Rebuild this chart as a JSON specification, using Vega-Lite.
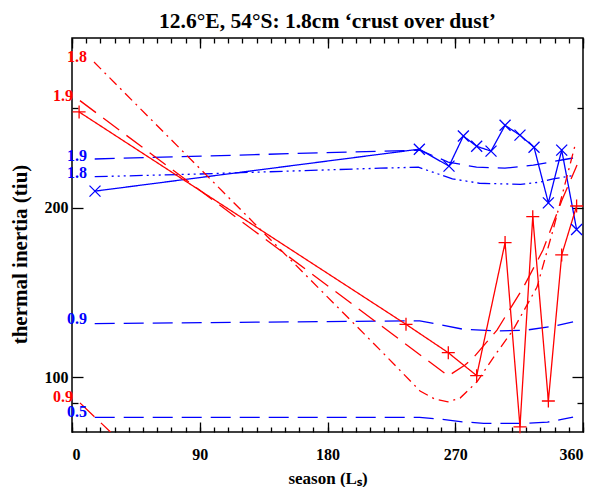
{
  "$schema": "https://vega.github.io/schema/vega-lite/v6.json",
  "width": 511,
  "height": 394,
  "autosize": {"type": "none"},
  "padding": {"left": 72, "top": 38, "right": 20, "bottom": 55},
  "background": "white",
  "title": {"text": "12.6°E, 54°S: 1.8cm ‘crust over dust’", "font": "Liberation Serif", "fontSize": 21.5, "fontWeight": "bold", "anchor": "middle", "frame": "group", "offset": -12, "baseline": "alphabetic", "color": "black"},
  "config": {
    "view": {"stroke": "black", "strokeWidth": 1.5},
    "axis": {"domain": false, "grid": false, "tickColor": "black", "tickWidth": 1.3, "labelFont": "Liberation Serif", "labelFontWeight": "bold", "labelFontSize": 16, "labelColor": "black", "titleFont": "Liberation Serif", "titleFontWeight": "bold", "titleColor": "black"}
  },
  "datasets": {
    "curves": [
      {"s": "obsBlue", "Ls": 16.2, "TI": 214}, {"s": "obsBlue", "Ls": 244.7, "TI": 254}, {"s": "obsBlue", "Ls": 265.6, "TI": 237}, {"s": "obsBlue", "Ls": 275.7, "TI": 268}, {"s": "obsBlue", "Ls": 285.1, "TI": 257}, {"s": "obsBlue", "Ls": 295.2, "TI": 252}, {"s": "obsBlue", "Ls": 305.1, "TI": 280}, {"s": "obsBlue", "Ls": 315.6, "TI": 269}, {"s": "obsBlue", "Ls": 325.5, "TI": 256}, {"s": "obsBlue", "Ls": 335.6, "TI": 204}, {"s": "obsBlue", "Ls": 345, "TI": 253}, {"s": "obsBlue", "Ls": 355.5, "TI": 183},
      {"s": "blue19", "Ls": 16, "TI": 244}, {"s": "blue19", "Ls": 245, "TI": 253}, {"s": "blue19", "Ls": 265, "TI": 241}, {"s": "blue19", "Ls": 285, "TI": 236}, {"s": "blue19", "Ls": 305, "TI": 235}, {"s": "blue19", "Ls": 325, "TI": 238}, {"s": "blue19", "Ls": 345, "TI": 243}, {"s": "blue19", "Ls": 353, "TI": 245},
      {"s": "blue18", "Ls": 16, "TI": 227}, {"s": "blue18", "Ls": 90, "TI": 229.5}, {"s": "blue18", "Ls": 217, "TI": 235}, {"s": "blue18", "Ls": 244, "TI": 236}, {"s": "blue18", "Ls": 258, "TI": 229.5}, {"s": "blue18", "Ls": 268, "TI": 225}, {"s": "blue18", "Ls": 287, "TI": 221}, {"s": "blue18", "Ls": 316, "TI": 220}, {"s": "blue18", "Ls": 330, "TI": 222}, {"s": "blue18", "Ls": 339, "TI": 225}, {"s": "blue18", "Ls": 353, "TI": 228},
      {"s": "blue09", "Ls": 16, "TI": 124.6}, {"s": "blue09", "Ls": 245, "TI": 126}, {"s": "blue09", "Ls": 260, "TI": 123.9}, {"s": "blue09", "Ls": 275, "TI": 121.8}, {"s": "blue09", "Ls": 300, "TI": 120.9}, {"s": "blue09", "Ls": 320, "TI": 121.3}, {"s": "blue09", "Ls": 340, "TI": 123.3}, {"s": "blue09", "Ls": 353, "TI": 125.4},
      {"s": "blue05", "Ls": 16, "TI": 84.9}, {"s": "blue05", "Ls": 245, "TI": 84.9}, {"s": "blue05", "Ls": 260, "TI": 84.3}, {"s": "blue05", "Ls": 275, "TI": 83.4}, {"s": "blue05", "Ls": 290, "TI": 82.9}, {"s": "blue05", "Ls": 320, "TI": 82.9}, {"s": "blue05", "Ls": 335, "TI": 83.3}, {"s": "blue05", "Ls": 345, "TI": 84.2}, {"s": "blue05", "Ls": 353, "TI": 85.0},
      {"s": "obsRed", "Ls": 5, "TI": 295.7}, {"s": "obsRed", "Ls": 235.3, "TI": 124.2}, {"s": "obsRed", "Ls": 265.1, "TI": 110.6}, {"s": "obsRed", "Ls": 285.1, "TI": 100.7}, {"s": "obsRed", "Ls": 305.1, "TI": 173.4}, {"s": "obsRed", "Ls": 315.6, "TI": 81.7}, {"s": "obsRed", "Ls": 324.6, "TI": 192.8}, {"s": "obsRed", "Ls": 335.6, "TI": 90.8}, {"s": "obsRed", "Ls": 345, "TI": 164.9}, {"s": "obsRed", "Ls": 355.5, "TI": 201.4},
      {"s": "red19", "Ls": 5.6, "TI": 309.7}, {"s": "red19", "Ls": 265.1, "TI": 100.6}, {"s": "red19", "Ls": 276.9, "TI": 105.2}, {"s": "red19", "Ls": 282.5, "TI": 108.2}, {"s": "red19", "Ls": 299.4, "TI": 121.3}, {"s": "red19", "Ls": 317.7, "TI": 144}, {"s": "red19", "Ls": 331.8, "TI": 168.2}, {"s": "red19", "Ls": 345.2, "TI": 206.4}, {"s": "red19", "Ls": 355.8, "TI": 238},
      {"s": "red18", "Ls": 15.5, "TI": 362.6}, {"s": "red18", "Ls": 217, "TI": 111.9}, {"s": "red18", "Ls": 245.2, "TI": 94.6}, {"s": "red18", "Ls": 255.7, "TI": 91.5}, {"s": "red18", "Ls": 264.9, "TI": 90.5}, {"s": "red18", "Ls": 273.4, "TI": 91.9}, {"s": "red18", "Ls": 285.3, "TI": 98.2}, {"s": "red18", "Ls": 298, "TI": 109.5}, {"s": "red18", "Ls": 310.7, "TI": 121.3}, {"s": "red18", "Ls": 327.6, "TI": 144.6}, {"s": "red18", "Ls": 338.9, "TI": 182.6}, {"s": "red18", "Ls": 354.4, "TI": 258},
      {"s": "red09", "Ls": 5.6, "TI": 90.1}, {"s": "red09", "Ls": 40, "TI": 74.5}
    ],
    "labels": [
      {"s": "obsRed", "t": "1.8", "Ls": 10.6, "TI": 370},
      {"s": "obsRed", "t": "1.9", "Ls": 0.7, "TI": 316},
      {"s": "obsBlue", "t": "1.9", "Ls": 10.6, "TI": 247},
      {"s": "obsBlue", "t": "1.8", "Ls": 10.6, "TI": 230},
      {"s": "obsBlue", "t": "0.9", "Ls": 10.6, "TI": 127},
      {"s": "obsRed", "t": "0.9", "Ls": 0.7, "TI": 92.3},
      {"s": "obsBlue", "t": "0.5", "Ls": 10.6, "TI": 86.8}
    ]
  },
  "resolve": {"axis": {"x": "independent", "y": "independent"}},
  "layer": [
    {
      "data": {"name": "curves"},
      "mark": {"type": "line", "clip": true, "strokeWidth": 1.3},
      "encoding": {
        "x": {"field": "Ls", "type": "quantitative", "scale": {"domain": [0, 360], "nice": false, "zero": false},
              "axis": {"orient": "bottom", "values": [0, 90, 180, 270, 360], "tickSize": -10, "labelPadding": 24, "title": "season (Lₛ)", "titleFontSize": 17, "titleY": 51, "titleBaseline": "alphabetic"}},
        "y": {"field": "TI", "type": "quantitative", "scale": {"type": "log", "domain": [80, 400], "nice": false},
              "axis": {"orient": "left", "values": [100, 200], "tickSize": -11, "labelPadding": 15, "title": "thermal inertia (tiu)", "titleFontSize": 21, "titleX": -52, "titleY": 216, "titleBaseline": "middle", "titleAngle": 270}},
        "color": {"field": "s", "type": "nominal", "legend": null,
                  "scale": {"domain": ["obsBlue", "blue19", "blue18", "blue09", "blue05", "obsRed", "red19", "red18", "red09"],
                            "range": ["#0000ff", "#0000ff", "#0000ff", "#0000ff", "#0000ff", "#ff0000", "#ff0000", "#ff0000", "#ff0000"]}},
        "strokeDash": {"field": "s", "type": "nominal", "legend": null,
                       "scale": {"domain": ["obsBlue", "blue19", "blue18", "blue09", "blue05", "obsRed", "red19", "red18", "red09"],
                                 "range": [[1, 0], [20, 9], [13, 4, 2, 4, 2, 4, 2, 4], [20, 9], [20, 9], [1, 0], [20, 9], [10, 5, 2, 5], [20, 9]]}}
      }
    },
    {
      "data": {"name": "curves"},
      "transform": [{"filter": "datum.s === 'obsBlue'"}],
      "mark": {"type": "point", "shape": "M-1,-1L1,1M-1,1L1,-1", "filled": false, "color": "#0000ff", "strokeWidth": 1.3, "size": 121, "opacity": 1},
      "encoding": {
        "x": {"field": "Ls", "type": "quantitative", "axis": {"orient": "bottom", "values": [0,10,20,30,40,50,60,70,80,90,100,110,120,130,140,150,160,170,180,190,200,210,220,230,240,250,260,270,280,290,300,310,320,330,340,350,360], "tickSize": -5, "labels": false, "title": null}},
        "y": {"field": "TI", "type": "quantitative", "axis": {"orient": "left", "values": [90, 300], "tickSize": -6, "labels": false, "title": null}}
      }
    },
    {
      "data": {"name": "curves"},
      "transform": [{"filter": "datum.s === 'obsRed'"}],
      "mark": {"type": "point", "shape": "M-1,0L1,0M0,-1L0,1", "filled": false, "color": "#ff0000", "strokeWidth": 1.3, "size": 169, "opacity": 1},
      "encoding": {
        "x": {"field": "Ls", "type": "quantitative", "axis": {"orient": "top", "values": [0, 90, 180, 270, 360], "tickSize": -10, "labels": false, "title": null}},
        "y": {"field": "TI", "type": "quantitative", "axis": {"orient": "right", "values": [100, 200], "tickSize": -11, "labels": false, "title": null}}
      }
    },
    {
      "data": {"name": "labels"},
      "mark": {"type": "text", "align": "right", "baseline": "middle", "font": "Liberation Serif", "fontWeight": "bold", "fontSize": 16},
      "encoding": {
        "x": {"field": "Ls", "type": "quantitative", "axis": {"orient": "top", "values": [0,10,20,30,40,50,60,70,80,90,100,110,120,130,140,150,160,170,180,190,200,210,220,230,240,250,260,270,280,290,300,310,320,330,340,350,360], "tickSize": -5, "labels": false, "title": null}},
        "y": {"field": "TI", "type": "quantitative", "axis": {"orient": "right", "values": [90, 300], "tickSize": -6, "labels": false, "title": null}},
        "text": {"field": "t"},
        "color": {"field": "s", "type": "nominal", "legend": null}
      }
    }
  ]
}
